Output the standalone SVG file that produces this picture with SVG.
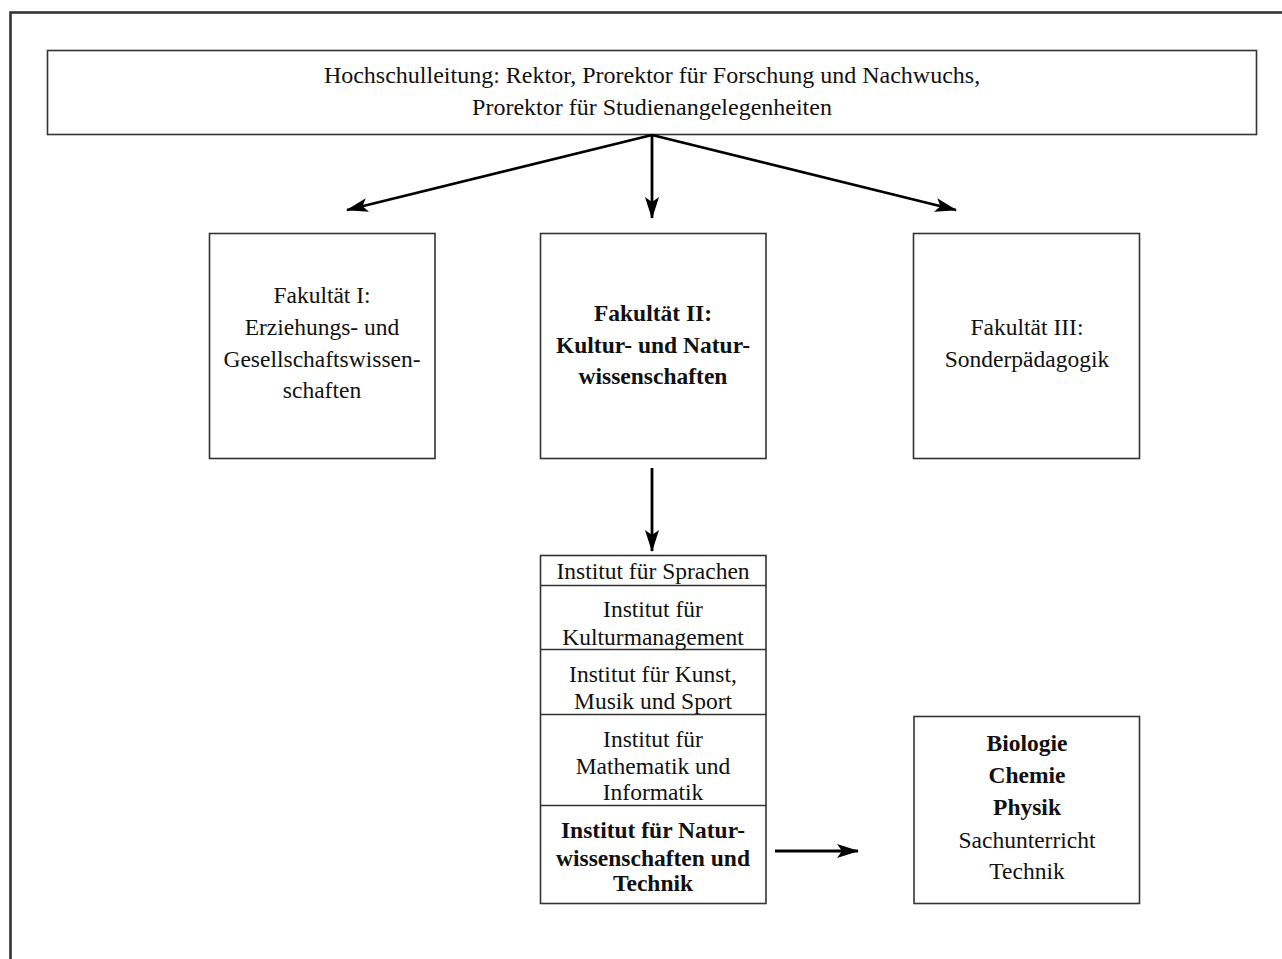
<svg xmlns="http://www.w3.org/2000/svg" width="1282" height="959" viewBox="0 0 1282 959">
<style>
text{font-family:"Liberation Serif","Times New Roman",serif;font-size:23.5px;fill:#111;text-anchor:middle}
.b{font-weight:bold}
.t{font-size:24px}
.box{fill:#fff;stroke:#333;stroke-width:1.6}
.div{stroke:#333;stroke-width:1.6}
.con{stroke:#000;stroke-width:2.8;fill:none}
</style>
<defs>
<marker id="ah" markerUnits="userSpaceOnUse" markerWidth="24" markerHeight="16" refX="21" refY="8" orient="auto">
<path d="M0,1 L22,8 L0,15 L5,8 z" fill="#000"/>
</marker>
</defs>
<rect x="0" y="0" width="1282" height="959" fill="#fff"/>
<rect x="10.5" y="12.5" width="1300" height="1000" fill="none" stroke="#333" stroke-width="2.6"/>
<g id="leitung">
<rect class="box" x="47.5" y="50.5" width="1209" height="84"/>
<text class="t" x="652" y="83">Hochschulleitung: Rektor, Prorektor für Forschung und Nachwuchs,</text>
<text class="t" x="652" y="115">Prorektor für Studienangelegenheiten</text>
</g>
<g id="fak1">
<rect class="box" x="209.5" y="233.5" width="225.5" height="225"/>
<text x="322" y="303">Fakultät I:</text>
<text x="322" y="335">Erziehungs- und</text>
<text x="322" y="367">Gesellschaftswissen-</text>
<text x="322" y="398">schaften</text>
</g>
<g id="fak2">
<rect class="box" x="540.5" y="233.5" width="225.5" height="225"/>
<text class="b" x="653" y="321">Fakultät II:</text>
<text class="b" x="653" y="353">Kultur- und Natur-</text>
<text class="b" x="653" y="384">wissenschaften</text>
</g>
<g id="fak3">
<rect class="box" x="913.5" y="233.5" width="226" height="225"/>
<text x="1027" y="335">Fakultät III:</text>
<text x="1027" y="367">Sonderpädagogik</text>
</g>
<g id="institute">
<rect class="box" x="540.5" y="555.5" width="225.5" height="348"/>
<line class="div" x1="540.5" y1="585.5" x2="766" y2="585.5"/>
<line class="div" x1="540.5" y1="649.5" x2="766" y2="649.5"/>
<line class="div" x1="540.5" y1="714.5" x2="766" y2="714.5"/>
<line class="div" x1="540.5" y1="805.5" x2="766" y2="805.5"/>
<text x="653" y="579">Institut für Sprachen</text>
<text x="653" y="617">Institut für</text>
<text x="653" y="645">Kulturmanagement</text>
<text x="653" y="682">Institut für Kunst,</text>
<text x="653" y="709">Musik und Sport</text>
<text x="653" y="747">Institut für</text>
<text x="653" y="774">Mathematik und</text>
<text x="653" y="800">Informatik</text>
<text class="b" x="653" y="838">Institut für Natur-</text>
<text class="b" x="653" y="866">wissenschaften und</text>
<text class="b" x="653" y="891">Technik</text>
</g>
<g id="faecher">
<rect class="box" x="914" y="716.5" width="225.5" height="187"/>
<text class="b" x="1027" y="751">Biologie</text>
<text class="b" x="1027" y="783">Chemie</text>
<text class="b" x="1027" y="815">Physik</text>
<text x="1027" y="848">Sachunterricht</text>
<text x="1027" y="879">Technik</text>
</g>
<g id="connectors">
<line class="con" x1="652" y1="135" x2="347" y2="210" marker-end="url(#ah)"/>
<line class="con" x1="652" y1="135" x2="652" y2="218" marker-end="url(#ah)"/>
<line class="con" x1="652" y1="135" x2="956" y2="210" marker-end="url(#ah)"/>
<line class="con" x1="652" y1="468" x2="652" y2="551" marker-end="url(#ah)"/>
<line class="con" x1="775" y1="851" x2="858" y2="851" marker-end="url(#ah)"/>
</g>
</svg>
